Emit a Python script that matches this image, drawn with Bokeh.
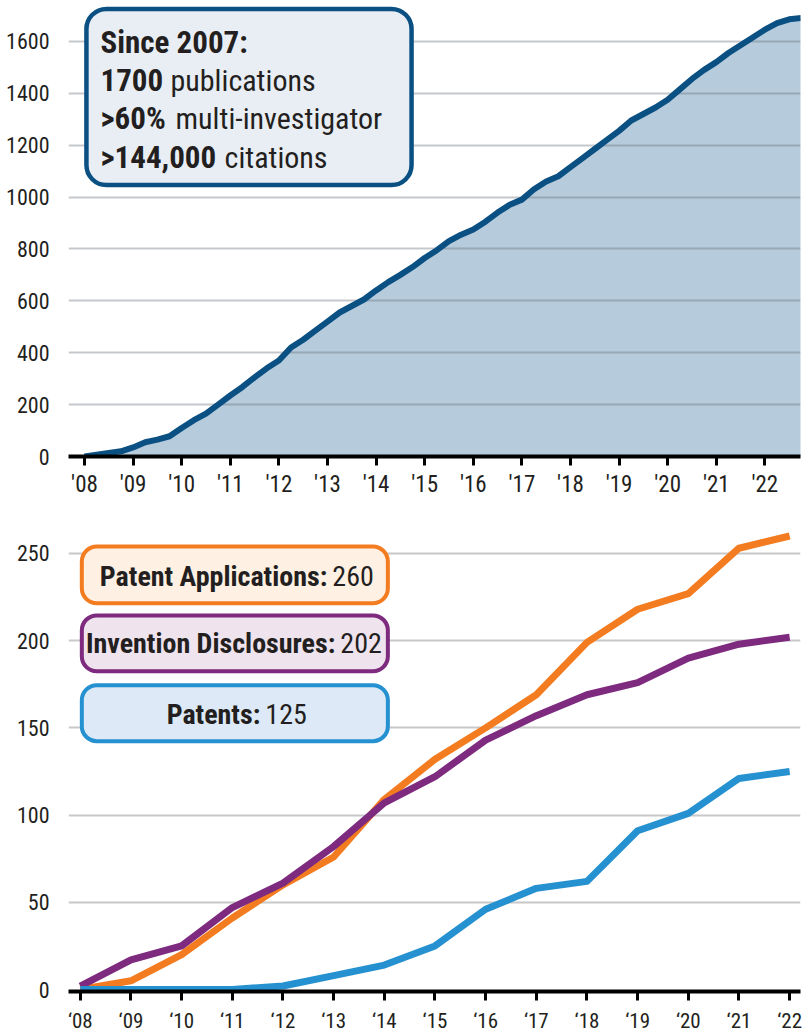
from bokeh.plotting import figure
from bokeh.models import Range1d, FixedTicker, BoxAnnotation, Label
from bokeh.layouts import column
from bokeh.embed import file_html
from bokeh.resources import INLINE

FONT = "Roboto Condensed"
TXT = "#231f20"

# ---------------- data ----------------
pub_years = [2008.0, 2008.25, 2008.5, 2008.75, 2009.0, 2009.25, 2009.5, 2009.75,
             2010.0, 2010.25, 2010.5, 2010.75, 2011.0, 2011.25, 2011.5, 2011.75,
             2012.0, 2012.25, 2012.5, 2012.75, 2013.0, 2013.25, 2013.5, 2013.75,
             2014.0, 2014.25, 2014.5, 2014.75, 2015.0, 2015.25, 2015.5, 2015.75,
             2016.0, 2016.25, 2016.5, 2016.75, 2017.0, 2017.25, 2017.5, 2017.75,
             2018.0, 2018.25, 2018.5, 2018.75, 2019.0, 2019.25, 2019.5, 2019.75,
             2020.0, 2020.25, 2020.5, 2020.75, 2021.0, 2021.25, 2021.5, 2021.75,
             2022.0, 2022.25, 2022.5, 2022.75]
pub_counts = [0, 7, 14, 20, 35, 55, 65, 78,
              110, 140, 165, 200, 235, 268, 305, 340,
              370, 420, 450, 485, 520, 555, 580, 605,
              640, 672, 700, 730, 765, 795, 830, 855,
              875, 905, 940, 970, 990, 1030, 1060, 1080,
              1115, 1150, 1185, 1220, 1255, 1295, 1320, 1345,
              1375, 1415, 1455, 1490, 1520, 1555, 1585, 1615,
              1645, 1670, 1685, 1690]

years = [2008, 2009, 2010, 2011, 2012, 2013, 2014, 2015,
         2016, 2017, 2018, 2019, 2020, 2021, 2022]
patent_apps = [0, 5, 20, 41, 60, 76, 109, 132, 150, 169, 199, 218, 227, 253, 260]
disclosures = [2, 17, 25, 47, 61, 82, 107, 122, 143, 157, 169, 176, 190, 198, 202]
patents = [0, 0, 0, 0, 2, 8, 14, 25, 46, 58, 62, 91, 101, 121, 125]

top_yticks = [0, 200, 400, 600, 800, 1000, 1200, 1400, 1600]
top_grid = [200, 400, 600, 800, 1000, 1200, 1400, 1600]
bottom_yticks = [0, 50, 100, 150, 200, 250]
bottom_grid = [50, 100, 150, 200, 250]
top_xlabels = ["'08", "'09", "'10", "'11", "'12", "'13", "'14", "'15",
               "'16", "'17", "'18", "'19", "'20", "'21", "'22"]
bottom_xlabels = ["\u201808", "\u201809", "\u201810", "\u201811", "\u201812",
                  "\u201813", "\u201814", "\u201815", "\u201816", "\u201817",
                  "\u201818", "\u201819", "\u201820", "\u201821", "\u201822"]

summary_bold = ["Since 2007:", "1700", ">60%", ">144,000"]
summary_regular = ["", "publications", "multi-investigator", "citations"]

legend_bold = ["Patent Applications:", "Invention Disclosures:", "Patents:"]
legend_values = ["260", "202", "125"]
legend_line = ["#f47c20", "#7d2a7f", "#2591d0"]
legend_fill = ["#fef0e3", "#efe3ee", "#dde9f6"]


def style_xaxis(p, labels, size, standoff):
    ax = p.xaxis[0]
    ax.ticker = FixedTicker(ticks=years)
    ax.major_label_overrides = {y: l for y, l in zip(years, labels)}
    ax.axis_line_color = "black"
    ax.axis_line_width = 4
    ax.major_tick_line_color = "black"
    ax.major_tick_line_width = 3
    ax.major_tick_out = 9
    ax.major_tick_in = 0
    ax.minor_tick_line_color = None
    ax.major_label_standoff = standoff
    ax.major_label_text_font = FONT
    ax.major_label_text_font_size = size
    ax.major_label_text_color = TXT


def style_yaxis(p, ticks, size):
    ax = p.yaxis[0]
    ax.ticker = FixedTicker(ticks=ticks)
    ax.axis_line_color = None
    ax.major_tick_line_color = None
    ax.minor_tick_line_color = None
    ax.major_label_standoff = 13
    ax.major_label_text_font = FONT
    ax.major_label_text_font_size = size
    ax.major_label_text_color = TXT


# ---------------- top chart ----------------
top = figure(width=806, height=500, output_backend="svg", toolbar_location=None,
             x_range=Range1d(2007.671, 2022.733), y_range=Range1d(0, 1742),
             min_border_left=68, min_border_right=6, min_border_top=4,
             min_border_bottom=43)
top.outline_line_color = None
top.grid.grid_line_color = None
style_xaxis(top, top_xlabels, "23px", 5)
style_yaxis(top, top_yticks, "22px")

top.varea(x=pub_years, y1=0, y2=pub_counts, fill_color="#b6cbdc")
top.hspan(y=top_grid, line_color="#646e78", line_alpha=0.38, line_width=2)
top.line(pub_years, pub_counts, line_color="#0b5083", line_width=6,
         line_join="round")

top.add_layout(BoxAnnotation(left=2008.04, right=2014.73, top=1725, bottom=1046,
                             border_radius=20, fill_color="#e9eef5", fill_alpha=1,
                             line_color="#0b5083", line_alpha=1, line_width=4.5))
line_y = [1596, 1450, 1304, 1154]
reg_off = [0, 70, 75, 124]
for b, r, yy, off in zip(summary_bold, summary_regular, line_y, reg_off):
    top.add_layout(Label(x=2008.33, y=yy, text=b, text_font=FONT,
                         text_font_size="31px", text_font_style="bold",
                         text_baseline="middle", text_color=TXT))
    if r:
        top.add_layout(Label(x=2008.33, y=yy, x_offset=off, text=r,
                             text_font=FONT, text_font_size="30px",
                             text_baseline="middle", text_color=TXT))

# ---------------- bottom chart ----------------
bot = figure(width=806, height=535, output_backend="svg", toolbar_location=None,
             x_range=Range1d(2007.767, 2022.214), y_range=Range1d(-1.14, 268.9),
             min_border_left=60, min_border_right=1, min_border_top=20,
             min_border_bottom=43)
bot.outline_line_color = None
bot.grid.grid_line_color = None
style_xaxis(bot, bottom_xlabels, "21px", 8)
style_yaxis(bot, bottom_yticks, "22px")

bot.hspan(y=bottom_grid, line_color="#c8c8c8", line_width=2)
bot.line(years, patent_apps, line_color=legend_line[0], line_width=7, line_join="round")
bot.line(years, disclosures, line_color=legend_line[1], line_width=7, line_join="round")
bot.line(years, patents, line_color=legend_line[2], line_width=7, line_join="round")

box_tops = [254.0, 214.5, 174.5]
box_bottoms = [221.4, 182.5, 142.4]
text_y = [236.8, 198.5, 157.9]
split = [93.5, 101.5, 26.5]
for i in range(3):
    bot.add_layout(BoxAnnotation(left=2008.03, right=2014.07, top=box_tops[i],
                                 bottom=box_bottoms[i], border_radius=15,
                                 fill_color=legend_fill[i], fill_alpha=1,
                                 line_color=legend_line[i], line_alpha=1,
                                 line_width=4))
    bot.add_layout(Label(x=2011.03, y=text_y[i], x_offset=split[i],
                         text=legend_bold[i], text_font=FONT,
                         text_font_size="28px", text_font_style="bold",
                         text_align="right", text_baseline="middle",
                         text_color=TXT))
    bot.add_layout(Label(x=2011.03, y=text_y[i], x_offset=split[i] + 5,
                         text=legend_values[i], text_font=FONT,
                         text_font_size="28px", text_align="left",
                         text_baseline="middle", text_color=TXT))

layout = column(top, bot, spacing=0)
open("out.html", "w").write(file_html(layout, INLINE))
